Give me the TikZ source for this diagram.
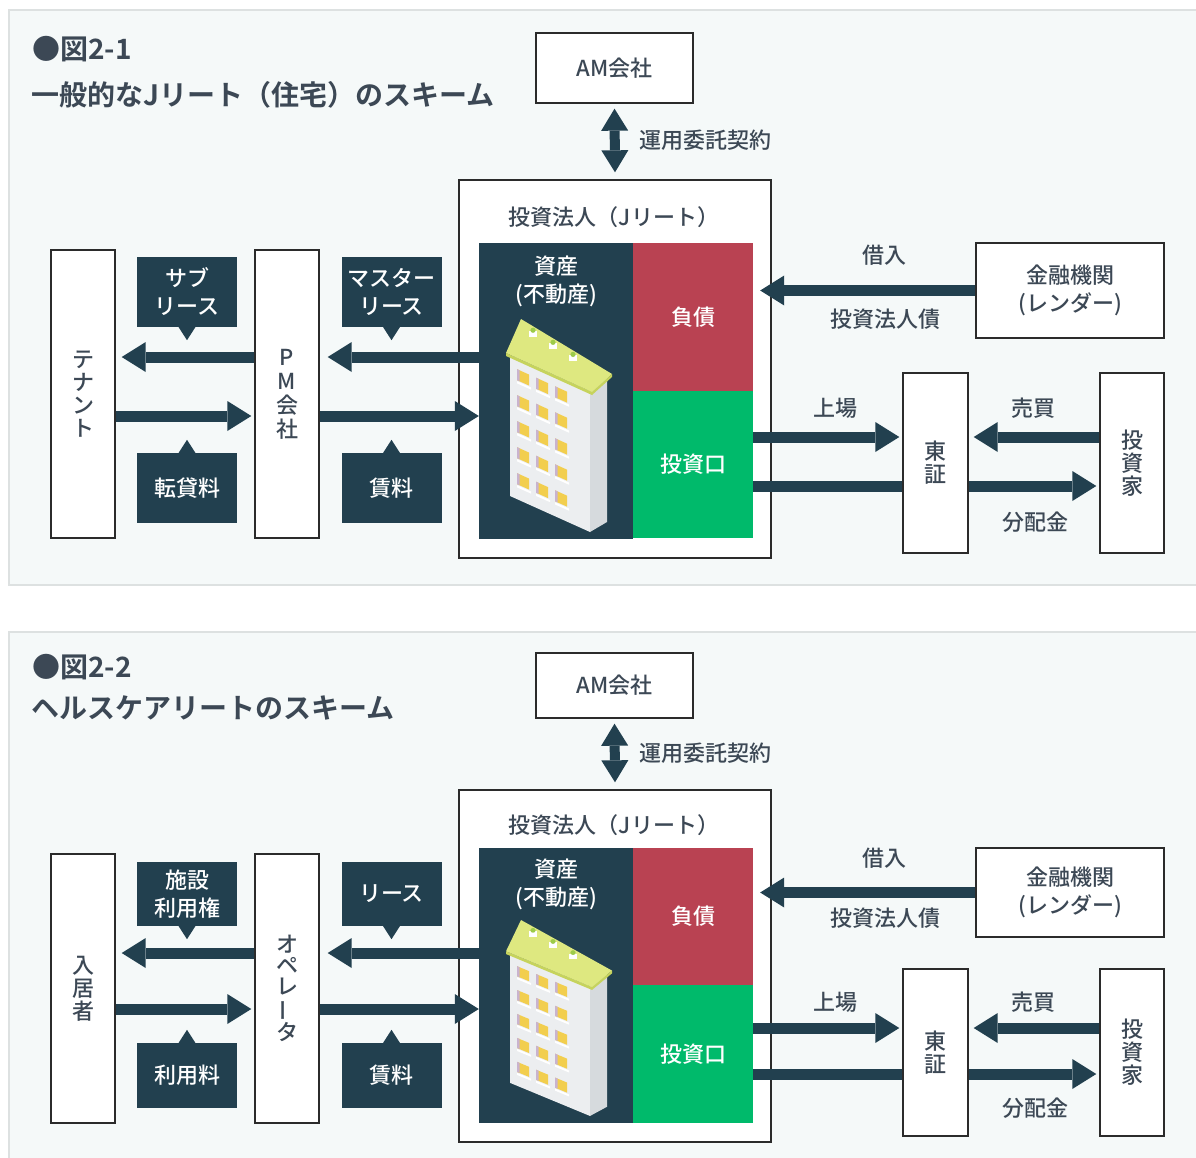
\documentclass[tikz,border=0pt]{standalone}
\usepackage{fontspec}
\usepackage{graphicx}
\setmainfont{Noto Sans CJK JP Medium}
\newfontfamily\headfont{Noto Sans CJK JP Bold}
\usetikzlibrary{arrows.meta,calc}

\definecolor{panelbg}{HTML}{F5F9F9}
\definecolor{panelline}{HTML}{DDE1E1}
\definecolor{dark}{HTML}{22404F}
\definecolor{debtred}{HTML}{B94252}
\definecolor{eqgreen}{HTML}{00BA6B}
\definecolor{ink}{HTML}{3C4855}
\definecolor{boxline}{HTML}{2B2B2B}
\definecolor{bfront}{HTML}{ECEEF0}
\definecolor{bside}{HTML}{D6DADD}
\definecolor{roofc}{HTML}{DEE880}
\definecolor{roofd}{HTML}{C6D35C}
\definecolor{winc}{HTML}{F2CE4E}
\definecolor{winside}{HTML}{C9B3CF}
\definecolor{leaf}{HTML}{9CCB4A}

% pointer tips of the dark caption boxes
\newcommand\tipdown[1]{\fill[dark] ($(#1.south)+(-9,-1)$) -- ($(#1.south)+(9,-1)$) -- ($(#1.south)+(0,13)$) -- cycle;}
\newcommand\tipup[1]{\fill[dark] ($(#1.north)+(-9,1)$) -- ($(#1.north)+(9,1)$) -- ($(#1.north)+(0,-13)$) -- cycle;}

% isometric apartment building: #1,#2 = origin, #3 = vertical scale
\newcommand\bldg[3]{%
\begin{scope}[shift={(#1,#2)}, yscale=#3]
  \fill[bfront] (4,36) -- (84,72) -- (84,213) -- (4,177) -- cycle;
  \fill[bside] (84,72) -- (101,58) -- (101,203) -- (84,213) -- cycle;
  \foreach \c in {0,1,2}{
    \foreach \r in {0,...,4}{
      \pgfmathsetmacro\ux{11+19*\c}
      \pgfmathsetmacro\vy{36+0.45*(\ux-4)+11+26*\r}
      \fill[winc] (\ux,\vy) -- ++(12,5.4) -- ++(0,11) -- ++(-12,-5.4) -- cycle;
      \fill[winside] (\ux,\vy) -- ++(2.5,1.1) -- ++(0,11) -- ++(-2.5,-1.1) -- cycle;
      \fill[white] (\ux,\vy+12) -- ++(14,6.3) -- ++(0,2.2) -- ++(-14,-6.3) -- cycle;
    }
  }
  \fill[roofc] (15,0) -- (106,55) -- (86,73) -- (0,34) -- cycle;
  \fill[roofd] (0,34) -- (86,73) -- (86,76) -- (0,37) -- cycle;
  \fill[roofd] (106,55) -- (86,73) -- (86,76) -- (106,58) -- cycle;
  \foreach \px in {27,47,67}{
    \pgfmathsetmacro\py{0.604*(\px-15)+5}
    \fill[white] (\px-4,\py) rectangle (\px+4,\py+6);
    \fill[leaf] (\px,\py-1) circle (2.6);
  }
\end{scope}}

\begin{document}
\begin{tikzpicture}[x=1pt,y=-1pt,
  every node/.style={text=ink, inner sep=0pt},
  font=\fontsize{22}{28}\selectfont,
  panel/.style={fill=panelbg, draw=panelline, line width=1.2pt},
  box/.style={draw=boxline, line width=1.4pt, fill=white},
  lbl/.style={fill=dark, text=white, align=center, minimum width=100},
  block/.style={text=white, align=center},
  vtext/.style={align=center, font=\fontsize{22}{23}\selectfont},
  title/.style={anchor=west, font=\headfont\fontsize{28}{34}\selectfont, text=ink},
  fat/.style={draw=dark, line width=11pt, -{Triangle[width=30pt,length=24pt,line width=0pt]}},
  bar/.style={draw=dark, line width=11pt},
  dbl/.style={draw=dark, line width=10pt, {Triangle[width=27pt,length=22pt,line width=0pt]}-{Triangle[width=27pt,length=22pt,line width=0pt]}}
]
\useasboundingbox (0,0) rectangle (1196,1158);
\fill[white] (0,0) rectangle (1196,1158);
\clip (0,0) rectangle (1196,1158);

% ================= panel 2-1 =================
\draw[panel] (9,10) rectangle (1210,585);
\node[title] (t1a) at (32,49) {●図2-1};
\node[title] (t1b) at (31,95) {一般的なJリート（住宅）のスキーム};

\node[box, minimum width=157, minimum height=70] (am1) at (614.5,68) {AM会社};
\node[box, minimum width=312, minimum height=378] (reit1) at (615,369) {};
\node (reit1t) at (614,217) {投資法人（Jリート）};
\node[fill=dark, minimum width=154, minimum height=296] (asset1) at (556,391) {};
\node[block] (asset1t) at (556,281) {資産\\(不動産)};
\node[fill=debtred, block, minimum width=120, minimum height=149] (debt1) at (693,317.5) {負債};
\node[fill=eqgreen, block, minimum width=120, minimum height=147] (eq1) at (693,464.5) {投資口};
\bldg{506}{319}{1}

\node[box, vtext, minimum width=64, minimum height=288] (ten1) at (83,394) {テ\\ナ\\ン\\ト};
\node[box, vtext, minimum width=64, minimum height=288, font=\fontsize{22}{24}\selectfont] (pm1) at (287,394) {P\\M\\会\\社};
\node[lbl, minimum height=70] (sub1) at (187,292) {サブ\\リース};
\node[lbl, minimum height=70] (ml1) at (391.5,292) {マスター\\リース};
\node[lbl, minimum height=70] (fee1) at (187,488) {転貸料};
\node[lbl, minimum height=70] (rent1) at (391.5,488) {賃料};
\tipdown{sub1} \tipdown{ml1} \tipup{fee1} \tipup{rent1}

\node[box, align=center, minimum width=188, minimum height=95] (lend1) at (1070,290.5) {金融機関\\(レンダー)};
\node[box, vtext, minimum width=65, minimum height=180] (tse1) at (935.5,463) {東\\証};
\node[box, vtext, minimum width=64, minimum height=180] (inv1) at (1132,463) {投\\資\\家};

\coordinate (r1a) at (0,357);
\coordinate (r1b) at (0,416);
\coordinate (r1c) at (0,437);
\coordinate (r1d) at (0,486);

\draw[dbl] ($(am1.south)+(0,5)$) -- ($(reit1.north)+(0,-7)$);
\node[anchor=west] (amlab1) at (639,140) {運用委託契約};

\draw[fat] (pm1.west |- r1a) -- ($(ten1.east |- r1a)+(6,0)$);
\draw[fat] (ten1.east |- r1b) -- ($(pm1.west |- r1b)+(-3,0)$);
\draw[fat] (asset1.west |- r1a) -- ($(pm1.east |- r1a)+(8,0)$);
\draw[fat] (pm1.east |- r1b) -- (asset1.west |- r1b);

\draw[fat] (lend1.west) -- ($(debt1.east |- lend1.west)+(7,0)$);
\node (borrow1) at (884,255) {借入};
\node (bond1) at (885,319) {投資法人債};

\draw[fat] (eq1.east |- r1c) -- ($(tse1.west |- r1c)+(-3,0)$);
\draw[bar] (eq1.east |- r1d) -- (tse1.west |- r1d);
\draw[fat] (tse1.east |- r1d) -- ($(inv1.west |- r1d)+(-3,0)$);
\draw[fat] (inv1.west |- r1c) -- ($(tse1.east |- r1c)+(5,0)$);
\node (list1) at (835,408) {上場};
\node (trade1) at (1033,408) {売買};
\node (div1) at (1035,522) {分配金};

% ================= panel 2-2 =================
\draw[panel] (9,632) rectangle (1210,1175);
\node[title] (t2a) at (32,667) {●図2-2};
\node[title] (t2b) at (31,708) {ヘルスケアリートのスキーム};

\node[box, minimum width=157, minimum height=65] (am2) at (614.5,685.5) {AM会社};
\node[box, minimum width=312, minimum height=352] (reit2) at (615,966) {};
\node (reit2t) at (614,825) {投資法人（Jリート）};
\node[fill=dark, minimum width=154, minimum height=275] (asset2) at (556,985.5) {};
\node[block] (asset2t) at (556,884) {資産\\(不動産)};
\node[fill=debtred, block, minimum width=120, minimum height=137] (debt2) at (693,916.5) {負債};
\node[fill=eqgreen, block, minimum width=120, minimum height=138] (eq2) at (693,1054) {投資口};
\bldg{506}{920}{0.92}

\node[box, vtext, minimum width=64, minimum height=269] (res2) at (83,988.5) {入\\居\\者};
\node[box, vtext, minimum width=64, minimum height=269, font=\fontsize{22}{21}\selectfont] (op2) at (287,988.5) {オ\\ペ\\レ\\\rotatebox[origin=c]{90}{ー}\\タ};
\node[lbl, minimum height=64] (use2) at (187,894) {施設\\利用権};
\node[lbl, minimum height=64] (lease2) at (391.5,894) {リース};
\node[lbl, minimum height=65] (fee2) at (187,1075.5) {利用料};
\node[lbl, minimum height=65] (rent2) at (391.5,1075.5) {賃料};
\tipdown{use2} \tipdown{lease2} \tipup{fee2} \tipup{rent2}

\node[box, align=center, minimum width=188, minimum height=89] (lend2) at (1070,892.5) {金融機関\\(レンダー)};
\node[box, vtext, minimum width=65, minimum height=167] (tse2) at (935.5,1052.5) {東\\証};
\node[box, vtext, minimum width=64, minimum height=167] (inv2) at (1132,1052.5) {投\\資\\家};

\coordinate (r2a) at (0,953);
\coordinate (r2b) at (0,1009);
\coordinate (r2c) at (0,1028);
\coordinate (r2d) at (0,1074);

\draw[dbl] ($(am2.south)+(0,5)$) -- ($(reit2.north)+(0,-7)$);
\node[anchor=west] (amlab2) at (639,753) {運用委託契約};

\draw[fat] (op2.west |- r2a) -- ($(res2.east |- r2a)+(6,0)$);
\draw[fat] (res2.east |- r2b) -- ($(op2.west |- r2b)+(-3,0)$);
\draw[fat] (asset2.west |- r2a) -- ($(op2.east |- r2a)+(8,0)$);
\draw[fat] (op2.east |- r2b) -- (asset2.west |- r2b);

\draw[fat] (lend2.west) -- ($(debt2.east |- lend2.west)+(7,0)$);
\node (borrow2) at (884,858) {借入};
\node (bond2) at (885,918) {投資法人債};

\draw[fat] (eq2.east |- r2c) -- ($(tse2.west |- r2c)+(-3,0)$);
\draw[bar] (eq2.east |- r2d) -- (tse2.west |- r2d);
\draw[fat] (tse2.east |- r2d) -- ($(inv2.west |- r2d)+(-3,0)$);
\draw[fat] (inv2.west |- r2c) -- ($(tse2.east |- r2c)+(5,0)$);
\node (list2) at (835,1002) {上場};
\node (trade2) at (1033,1002) {売買};
\node (div2) at (1035,1108) {分配金};
\end{tikzpicture}
\end{document}
